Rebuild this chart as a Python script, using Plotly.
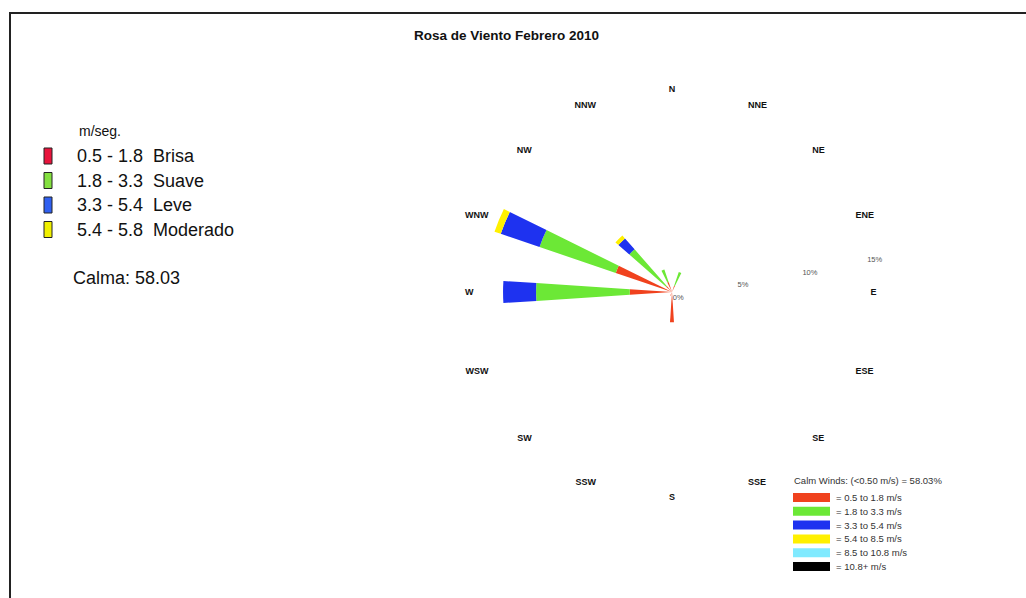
import plotly.graph_objects as go

# Wind directions (compass degrees, clockwise from north)
directions = ["N", "NNE", "NE", "ENE", "E", "ESE", "SE", "SSE",
              "S", "SSW", "SW", "WSW", "W", "WNW", "NW", "NNW"]
angles = [i * 22.5 for i in range(16)]

# Frequency (%) per speed class and direction, same order as `directions`
freq_05_18 = [0, 0.5, 0, 0, 0, 0, 0, 0, 2.3, 0.3, 0, 0, 3.2, 4.5, 0.6, 0.8]
freq_18_33 = [0, 1.1, 0, 0, 0, 0, 0, 0, 0, 0, 0, 0, 7.1, 6.1, 3.7, 1.0]
freq_33_54 = [0, 0, 0, 0, 0, 0, 0, 0, 0, 0, 0, 0, 2.5, 3.1, 1.1, 0]
freq_54_85 = [0, 0, 0, 0, 0, 0, 0, 0, 0, 0, 0, 0, 0, 0.5, 0.3, 0]
freq_85_108 = [0] * 16
freq_108p = [0] * 16

series = [freq_05_18, freq_18_33, freq_33_54, freq_54_85, freq_85_108, freq_108p]
bin_labels = ["= 0.5 to 1.8 m/s", "= 1.8 to 3.3 m/s", "= 3.3 to 5.4 m/s",
              "= 5.4 to 8.5 m/s", "= 8.5 to 10.8 m/s", "= 10.8+ m/s"]
bar_colors = ["#F0421E", "#6CE836", "#1E32F0", "#FFF000", "#80EAFF", "#000000"]

ring_vals = [0, 5, 10, 15]
ring_text = ["0%", "5%", "10%", "15%"]

calm_pct = 58.03

# Beaufort-style classes for the left-hand key
key_labels = ["0.5 - 1.8  Brisa", "1.8 - 3.3  Suave", "3.3 - 5.4  Leve", "5.4 - 5.8  Moderado"]
key_colors = ["#E8143C", "#84E040", "#3060F0", "#F0F000"]

W, H = 1026, 598


def px(x):
    return x / W


def py(y):
    return 1 - y / H


fig = go.Figure()
for vals, name, col in zip(series, bin_labels, bar_colors):
    fig.add_trace(go.Barpolar(
        r=vals, theta=angles, width=[7.5] * 16, name=name,
        marker=dict(color=col, line=dict(width=0)),
        showlegend=False,
    ))

cx, cy, R = 672, 292, 198
fig.update_layout(
    width=W, height=H,
    margin=dict(l=0, r=0, t=0, b=0),
    paper_bgcolor="white", plot_bgcolor="white",
    font=dict(family="Arial, Liberation Sans, sans-serif", color="#111"),
    polar=dict(
        domain=dict(x=[px(cx - R), px(cx + R)], y=[py(cy + R), py(cy - R)]),
        bgcolor="white",
        barmode="stack",
        angularaxis=dict(
            rotation=90, direction="clockwise",
            tickmode="array", tickvals=angles, ticktext=directions,
            showgrid=False, showline=False, ticks="",
            tickfont=dict(size=9, color="#111", weight="bold"),
        ),
        radialaxis=dict(
            range=[0, 15], angle=11, side="clockwise", tickangle=11,
            tickmode="array", tickvals=ring_vals, ticktext=ring_text,
            showgrid=False, showline=False, ticks="",
            tickfont=dict(size=7.5, color="#555"),
        ),
    ),
)

annotations = [
    dict(x=px(506), y=py(36), text="<b>Rosa de Viento Febrero 2010</b>",
         font=dict(size=13.5, color="#111")),
    dict(x=px(77), y=py(131), text="m/seg.", xanchor="left",
         font=dict(size=14, color="#111")),
    dict(x=px(71), y=py(278), text=f"Calma: {calm_pct:.2f}", xanchor="left",
         font=dict(size=18, color="#111")),
    dict(x=px(792), y=py(480),
         text=f"Calm Winds: (<0.50 m/s) = {calm_pct:.2f}%", xanchor="left",
         font=dict(size=9.5, color="#333")),
]
shapes = [
    # outer frame
    dict(type="rect", xref="paper", yref="paper",
         x0=px(10), y0=py(603), x1=px(1032), y1=py(13),
         line=dict(color="#222", width=2)),
]

for i, (lab, col) in enumerate(zip(key_labels, key_colors)):
    yc = 156 + i * 24.5
    shapes.append(dict(type="rect", xref="paper", yref="paper",
                       x0=px(44), x1=px(52), y0=py(yc + 8), y1=py(yc - 8),
                       fillcolor=col, line=dict(color="#222", width=1)))
    annotations.append(dict(x=px(75), y=py(yc), text=lab.replace("  ", "&nbsp;&nbsp;"),
                            xanchor="left", font=dict(size=18, color="#111")))

for i, (lab, col) in enumerate(zip(bin_labels, bar_colors)):
    yc = 497.5 + i * 13.8
    shapes.append(dict(type="rect", xref="paper", yref="paper",
                       x0=px(793), x1=px(830), y0=py(yc + 4.5), y1=py(yc - 4.5),
                       fillcolor=col, line=dict(width=0)))
    annotations.append(dict(x=px(834), y=py(yc), text=lab, xanchor="left",
                            font=dict(size=9.5, color="#333")))

for a in annotations:
    a.setdefault("xref", "paper")
    a.setdefault("yref", "paper")
    a.setdefault("showarrow", False)
    a.setdefault("yanchor", "middle")

fig.update_layout(annotations=annotations, shapes=shapes)
fig.write_html("out.html")
